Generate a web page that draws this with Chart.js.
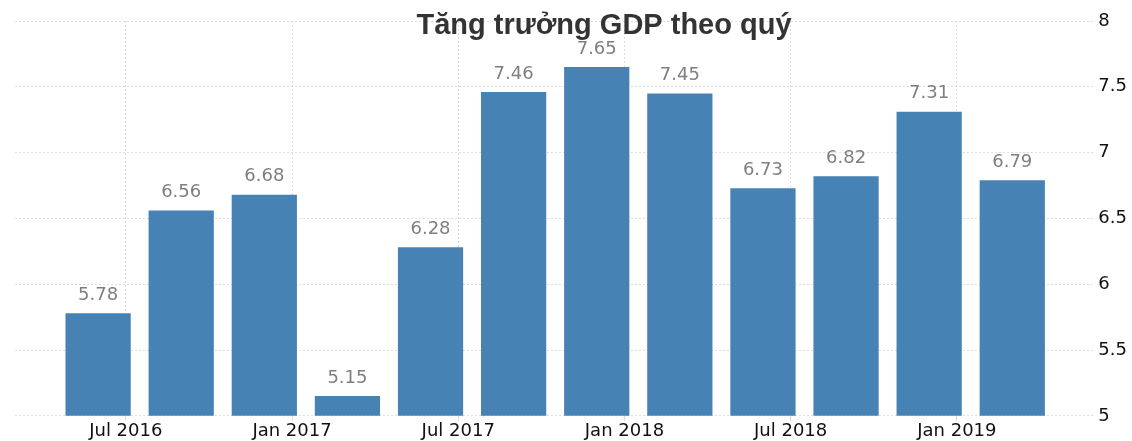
<!DOCTYPE html>
<html>
<head>
<meta charset="utf-8">
<script src="https://cdn.jsdelivr.net/npm/chart.js@4.4.1/dist/chart.umd.min.js"></script>
<style>
  html, body { margin: 0; padding: 0; background: #fff; }
  #wrap { width: 1132px; height: 441px; }
</style>
</head>
<body>
<div id="wrap"><canvas id="gdp"></canvas></div>
<script>
// quarterly GDP growth, bars dated by month
const quarterDates = ["2016-06", "2016-09", "2016-12", "2017-03", "2017-06", "2017-09",
  "2017-12", "2018-03", "2018-06", "2018-09", "2018-12", "2019-03"];
const gdpValues = [5.78, 6.56, 6.68, 5.15, 6.28, 7.46, 7.65, 7.45, 6.73, 6.82, 7.31, 6.79];
const tickDates = ["2016-07", "2017-01", "2017-07", "2018-01", "2018-07", "2019-01"];
const tickLabels = ["Jul 2016", "Jan 2017", "Jul 2017", "Jan 2018", "Jul 2018", "Jan 2019"];
const chartTitle = "Tăng trưởng GDP theo quý";

// months since Jan 2016
function toMonth(s) {
  const p = s.split("-");
  return (parseInt(p[0]) - 2016) * 12 + (parseInt(p[1]) - 1);
}
const tickMonths = tickDates.map(toMonth);

const barLabels = {
  id: "barLabels",
  afterDatasetsDraw(chart) {
    const ctx = chart.ctx;
    ctx.save();
    ctx.font = "18px 'DejaVu Sans'";
    ctx.fillStyle = "#7f7f7f";
    ctx.textAlign = "center";
    ctx.textBaseline = "middle";
    chart.getDatasetMeta(0).data.forEach((bar, i) => {
      ctx.fillText(gdpValues[i].toFixed(2), bar.x, bar.y - 18);
    });
    ctx.restore();
  }
};

const titleText = {
  id: "titleText",
  afterDraw(chart) {
    const ctx = chart.ctx;
    ctx.save();
    ctx.font = "bold 29px 'Liberation Sans', Arial";
    ctx.fillStyle = "#333333";
    ctx.textAlign = "center";
    ctx.textBaseline = "alphabetic";
    ctx.fillText(chartTitle, 604, 34);
    ctx.restore();
  }
};

new Chart(document.getElementById("gdp").getContext("2d"), {
  type: "bar",
  data: {
    datasets: [{
      data: gdpValues.map((v, i) => ({ x: toMonth(quarterDates[i]), y: v })),
      backgroundColor: "#4682b4",
      borderWidth: 0,
      barPercentage: 0.785,
      categoryPercentage: 1
    }]
  },
  options: {
    responsive: true,
    maintainAspectRatio: false,
    animation: false,
    layout: { padding: { top: 21, left: 15, right: 2, bottom: 0 } },
    plugins: {
      legend: { display: false },
      tooltip: { enabled: false }
    },
    scales: {
      x: {
        type: "linear",
        min: 2,
        max: 41,
        offset: false,
        afterBuildTicks: (axis) => {
          axis.ticks = tickMonths.map((m) => ({ value: m }));
        },
        ticks: {
          autoSkip: false,
          maxRotation: 0,
          padding: 0,
          color: "#111",
          font: { family: "'DejaVu Sans'", size: 18, lineHeight: 1.12 },
          callback: (v) => tickLabels[tickMonths.indexOf(v)]
        },
        grid: { color: "#dddddd", tickLength: 5, offset: false },
        border: { display: false, dash: [2, 2] }
      },
      y: {
        position: "right",
        min: 5,
        max: 8,
        ticks: {
          stepSize: 0.5,
          padding: 3,
          color: "#111",
          font: { family: "'DejaVu Sans'", size: 18 },
          callback: (v) => String(v)
        },
        grid: { color: "#dddddd", drawTicks: false },
        border: { display: false, dash: [2, 2] }
      }
    }
  },
  plugins: [barLabels, titleText]
});
</script>
</body>
</html>
